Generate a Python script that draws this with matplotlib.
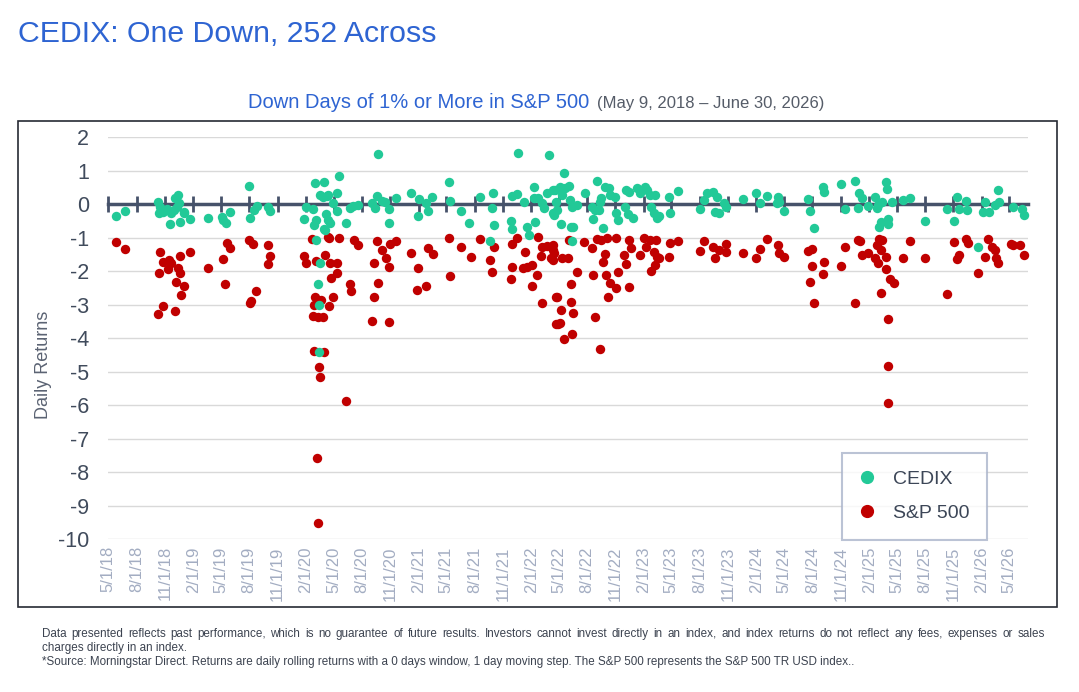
import matplotlib
matplotlib.use("Agg")
import matplotlib.pyplot as plt
import matplotlib.dates as mdates
from matplotlib.patches import Rectangle
from matplotlib.lines import Line2D
import pandas as pd

# CEDIX daily return on each S&P 500 down day
cedix_dates = [
    "2018-05-25", "2018-06-25", "2018-10-08", "2018-10-16", "2018-10-11", "2018-10-26", "2018-11-08",
    "2018-11-19", "2018-11-16", "2018-11-29", "2018-12-04", "2018-12-10", "2018-12-14", "2018-12-17",
    "2018-12-19", "2018-12-31", "2019-01-03", "2019-01-22", "2019-03-21", "2019-05-06", "2019-05-09",
    "2019-05-17", "2019-05-30", "2019-08-01", "2019-08-05", "2019-08-15", "2019-08-26", "2019-10-02",
    "2019-10-08", "2020-01-27", "2020-01-31", "2020-02-25", "2020-02-27", "2020-03-03", "2020-03-05",
    "2020-03-06", "2020-03-12", "2020-03-13", "2020-03-16", "2020-03-17", "2020-03-18", "2020-03-27",
    "2020-03-31", "2020-04-01", "2020-04-03", "2020-04-07", "2020-04-09", "2020-04-13", "2020-04-14",
    "2020-04-20", "2020-04-28", "2020-05-11", "2020-05-12", "2020-05-18", "2020-06-10", "2020-06-23",
    "2020-07-02", "2020-07-20", "2020-09-02", "2020-09-11", "2020-09-17", "2020-09-21", "2020-10-05",
    "2020-10-16", "2020-10-26", "2020-10-29", "2020-11-18", "2021-01-06", "2021-01-28", "2021-02-02",
    "2021-02-24", "2021-03-04", "2021-03-17", "2021-05-10", "2021-05-12", "2021-06-17", "2021-07-15",
    "2021-08-19", "2021-09-20", "2021-09-28", "2021-09-30", "2021-10-04", "2021-11-26", "2021-11-30",
    "2021-12-01", "2021-12-17", "2021-12-21", "2022-01-07", "2022-01-18", "2022-01-24", "2022-02-10",
    "2022-02-11", "2022-02-14", "2022-02-24", "2022-03-07", "2022-03-14", "2022-03-25", "2022-04-01",
    "2022-04-11", "2022-04-13", "2022-04-14", "2022-04-19", "2022-04-22", "2022-04-25", "2022-05-05",
    "2022-05-09", "2022-05-11", "2022-05-18", "2022-05-20", "2022-06-03", "2022-06-07", "2022-06-10",
    "2022-06-13", "2022-06-14", "2022-06-16", "2022-06-28", "2022-07-26", "2022-08-17", "2022-08-19",
    "2022-08-26", "2022-09-02", "2022-09-07", "2022-09-13", "2022-09-16", "2022-09-21", "2022-09-29",
    "2022-10-10", "2022-10-14", "2022-11-01", "2022-11-04", "2022-11-09", "2022-12-02", "2022-12-06",
    "2022-12-13", "2022-12-15", "2022-12-29", "2023-01-11", "2023-01-20", "2023-02-06", "2023-02-10",
    "2023-02-21", "2023-02-24", "2023-03-06", "2023-03-09", "2023-03-15", "2023-03-22", "2023-04-25",
    "2023-04-27", "2023-05-22", "2023-08-02", "2023-08-15", "2023-08-24", "2023-09-13", "2023-09-21",
    "2023-09-26", "2023-10-03", "2023-10-20", "2023-10-26", "2023-12-20", "2024-01-31", "2024-02-13",
    "2024-03-05", "2024-04-09", "2024-04-12", "2024-04-16", "2024-04-30", "2024-07-17", "2024-07-24",
    "2024-08-05", "2024-09-03", "2024-09-06", "2024-10-31", "2024-11-15", "2024-12-18", "2024-12-27",
    "2024-12-30", "2025-01-10", "2025-01-29", "2025-02-21", "2025-02-25", "2025-03-03", "2025-03-06",
    "2025-03-10", "2025-03-13", "2025-03-28", "2025-03-31", "2025-04-03", "2025-04-04", "2025-04-16",
    "2025-05-21", "2025-06-13", "2025-08-01", "2025-10-10", "2025-11-04", "2025-11-13", "2025-11-18",
    "2025-12-12", "2025-12-15", "2026-01-20", "2026-02-05", "2026-02-12", "2026-02-24", "2026-03-17",
    "2026-03-27", "2026-03-30", "2026-05-14", "2026-06-12", "2026-06-18",
]
cedix_ret = [
    -0.34, -0.20, 0.08, -0.07, -0.25, -0.22, -0.15,
    -0.25, -0.60, -0.17, 0.18, -0.07, 0.28, 0.03,
    -0.54, -0.22, -0.27, -0.45, -0.40, -0.37, -0.47,
    -0.57, -0.24, 0.56, -0.40, -0.17, -0.04, -0.07,
    -0.20, -0.44, -0.07, -0.15, -0.62, 0.63, -1.06,
    -0.47, -2.38, -3.02, -4.40, -1.74, 0.28, 0.23,
    -0.75, 0.68, -0.77, -0.29, 0.25, 0.28, -0.47,
    -0.57, 0.03, 0.33, -0.20, 0.83, -0.55, -0.12,
    -0.04, -0.02, 0.03, -0.12, 0.25, 1.49, 0.11,
    0.08, -0.14, -0.55, 0.20, 0.35, -0.34, 0.15,
    0.03, -0.20, 0.21, 0.68, 0.11, -0.19, -0.55,
    0.23, -1.09, -0.10, 0.35, -0.62, -0.49, 0.25,
    -0.75, 0.31, 1.54, 0.08, -0.67, -0.92, 0.53,
    0.18, -0.52, 0.18, 0.03, -0.12, 0.33, 1.47,
    -0.27, 0.43, -0.32, 0.43, 0.08, -0.17, 0.53,
    -0.59, 0.28, 0.93, 0.48, 0.55, 0.13, -0.67,
    -0.07, -1.09, -0.67, -0.02, 0.35, -0.07, -0.44,
    -0.17, 0.71, -0.17, 0.08, 0.18, -0.70, 0.53,
    0.48, 0.28, 0.23, -0.27, -0.47, -0.07, 0.43,
    -0.30, 0.38, -0.42, 0.48, 0.33, 0.53, 0.43,
    0.28, -0.07, -0.27, 0.28, -0.42, -0.35, 0.23,
    -0.25, 0.41, -0.14, 0.13, 0.33, 0.38, -0.22,
    0.23, -0.27, 0.03, -0.07, 0.16, 0.35, 0.05,
    0.25, 0.03, 0.23, 0.08, -0.20, 0.15, -0.19,
    -0.70, 0.53, 0.36, 0.60, -0.14, 0.71, -0.10,
    0.33, 0.18, -0.04, 0.23, -0.12, -0.02, -0.68,
    -0.52, 0.08, 0.68, 0.45, -0.44, -0.59, 0.08,
    0.13, 0.20, -0.49, -0.14, -0.49, 0.23, -0.14,
    0.11, -0.17, -1.26, -0.22, 0.06, -0.22, -0.02,
    0.43, 0.06, -0.07, -0.13, -0.33,
]

# S&P 500 daily return on its down days of 1% or more
spx_dates = [
    "2018-05-25", "2018-06-25", "2018-10-10", "2018-10-11", "2018-10-16", "2018-10-24", "2018-10-25",
    "2018-11-12", "2018-11-13", "2018-11-19", "2018-12-04", "2018-12-07", "2018-12-12", "2018-12-18",
    "2018-12-19", "2018-12-24", "2019-01-02", "2019-01-22", "2019-03-21", "2019-05-07", "2019-05-13",
    "2019-05-20", "2019-05-30", "2019-08-01", "2019-08-05", "2019-08-06", "2019-08-12", "2019-08-23",
    "2019-10-01", "2019-10-02", "2019-10-08", "2020-01-27", "2020-01-31", "2020-02-21", "2020-02-24",
    "2020-02-26", "2020-02-27", "2020-03-03", "2020-03-04", "2020-03-09", "2020-03-11", "2020-03-12",
    "2020-03-13", "2020-03-18", "2020-03-20", "2020-03-27", "2020-04-01", "2020-04-03", "2020-04-13",
    "2020-04-15", "2020-04-17", "2020-04-20", "2020-04-21", "2020-04-30", "2020-05-11", "2020-05-13",
    "2020-05-19", "2020-06-11", "2020-06-24", "2020-06-26", "2020-07-07", "2020-07-20", "2020-09-03",
    "2020-09-08", "2020-09-10", "2020-09-18", "2020-09-21", "2020-10-05", "2020-10-19", "2020-10-26",
    "2020-10-28", "2020-10-30", "2020-11-18", "2021-01-06", "2021-01-27", "2021-01-29", "2021-02-25",
    "2021-03-04", "2021-03-18", "2021-05-10", "2021-05-12", "2021-06-17", "2021-07-19", "2021-08-19",
    "2021-09-20", "2021-09-28", "2021-10-04", "2021-11-26", "2021-11-30", "2021-12-01", "2021-12-17",
    "2022-01-05", "2022-01-10", "2022-01-18", "2022-02-03", "2022-02-04", "2022-02-18", "2022-02-22",
    "2022-03-03", "2022-03-07", "2022-03-08", "2022-03-25", "2022-04-05", "2022-04-11", "2022-04-12",
    "2022-04-13", "2022-04-14", "2022-04-21", "2022-04-22", "2022-04-26", "2022-04-29", "2022-05-05",
    "2022-05-09", "2022-05-11", "2022-05-18", "2022-06-01", "2022-06-03", "2022-06-09", "2022-06-10",
    "2022-06-13", "2022-06-16", "2022-06-28", "2022-07-22", "2022-08-16", "2022-08-19", "2022-08-26",
    "2022-09-02", "2022-09-13", "2022-09-16", "2022-09-21", "2022-09-29", "2022-09-30", "2022-10-04",
    "2022-10-07", "2022-10-14", "2022-11-02", "2022-11-04", "2022-11-09", "2022-11-30", "2022-12-06",
    "2022-12-14", "2022-12-15", "2022-12-22", "2023-01-18", "2023-02-02", "2023-02-09", "2023-02-21",
    "2023-02-24", "2023-03-07", "2023-03-09", "2023-03-13", "2023-03-15", "2023-03-22", "2023-04-25",
    "2023-04-28", "2023-05-22", "2023-08-02", "2023-08-15", "2023-09-13", "2023-09-21", "2023-10-03",
    "2023-10-25", "2023-10-27", "2023-12-20", "2024-01-31", "2024-02-13", "2024-03-05", "2024-04-10",
    "2024-04-15", "2024-04-30", "2024-07-17", "2024-07-24", "2024-07-30", "2024-08-01", "2024-08-05",
    "2024-09-03", "2024-09-06", "2024-10-31", "2024-11-15", "2024-12-18", "2024-12-27", "2025-01-02",
    "2025-01-10", "2025-01-27", "2025-02-21", "2025-02-25", "2025-03-03", "2025-03-06", "2025-03-10",
    "2025-03-12", "2025-03-13", "2025-03-26", "2025-03-28", "2025-04-02", "2025-04-03", "2025-04-04",
    "2025-04-10", "2025-04-21", "2025-05-21", "2025-06-13", "2025-08-01", "2025-10-10", "2025-11-04",
    "2025-11-13", "2025-11-18", "2025-12-12", "2025-12-17", "2026-01-20", "2026-02-12", "2026-02-20",
    "2026-03-06", "2026-03-17", "2026-03-20", "2026-03-27", "2026-05-07", "2026-05-14", "2026-06-05",
    "2026-06-18",
]
spx_ret = [
    -1.14, -1.34, -3.27, -2.04, -1.41, -3.05, -1.71,
    -1.93, -1.66, -1.74, -3.20, -2.31, -1.89, -2.06,
    -1.54, -2.70, -2.43, -1.41, -1.89, -1.64, -2.39,
    -1.16, -1.29, -1.06, -2.96, -2.88, -1.18, -2.58,
    -1.78, -1.21, -1.53, -1.54, -1.74, -1.03, -3.32,
    -3.02, -4.37, -2.78, -1.68, -7.58, -3.35, -9.50,
    -4.85, -5.17, -2.86, -3.35, -4.40, -1.51, -0.99,
    -1.00, -3.05, -1.76, -2.19, -2.78, -1.74, -2.04,
    -1.01, -5.88, -2.38, -2.58, -1.08, -1.21, -3.47,
    -2.76, -1.74, -1.11, -2.34, -1.36, -1.61, -1.86,
    -3.50, -1.18, -1.11, -1.46, -2.56, -1.91, -2.43,
    -1.31, -1.48, -1.01, -2.13, -1.28, -1.58, -1.04,
    -1.66, -2.01, -1.28, -2.24, -1.86, -1.18, -1.01,
    -1.91, -1.41, -1.86, -2.43, -1.81, -2.11, -0.99,
    -1.54, -1.26, -2.94, -1.24, -1.61, -1.36, -1.66,
    -1.21, -1.46, -2.76, -3.58, -2.76, -3.58, -3.53,
    -3.17, -1.61, -4.02, -1.61, -1.06, -2.38, -2.91,
    -3.87, -3.23, -2.01, -1.13, -1.29, -2.11, -3.35,
    -1.04, -4.32, -1.06, -1.71, -1.49, -2.11, -1.00,
    -2.78, -2.34, -2.49, -1.02, -2.03, -1.51, -1.78,
    -1.08, -2.46, -1.31, -1.51, -1.01, -1.26, -1.06,
    -1.98, -1.41, -1.81, -1.08, -1.56, -1.61, -1.56,
    -1.16, -1.11, -1.38, -1.11, -1.26, -1.61, -1.36,
    -1.18, -1.41, -1.46, -1.59, -1.34, -1.03, -1.21,
    -1.46, -1.56, -1.38, -2.31, -1.34, -1.83, -2.96,
    -2.09, -1.71, -1.83, -1.28, -2.94, -1.06, -1.11,
    -1.51, -1.46, -1.61, -1.21, -1.74, -1.04, -2.66,
    -1.36, -1.06, -1.94, -1.56, -3.42, -4.82, -5.94,
    -2.24, -2.34, -1.59, -1.11, -1.59, -2.69, -1.14,
    -1.64, -1.51, -1.04, -1.16, -2.04, -1.56, -1.03,
    -1.26, -1.36, -1.61, -1.74, -1.19, -1.22, -1.22,
    -1.52,
]

x_start = "2018-05-01"
x_end = "2026-07-01"
tick_start = "2018-05-01"
tick_end = "2026-05-01"

GREEN = "#22c997"
RED = "#c00000"
BLUE = "#2e64d2"
AXIS = "#46526a"

plt.rcParams["font.family"] = ["Liberation Sans", "DejaVu Sans"]
plt.rcParams["axes.unicode_minus"] = False

W, H = 1079, 692
fig = plt.figure(figsize=(W / 100, H / 100), dpi=100)


def fx(px):
    return px / W


def fy(py):
    return 1 - py / H


ax = fig.add_axes([fx(108.3), fy(539.3), (1028 - 108.3) / W, (539.3 - 137.3) / H])

xc = mdates.date2num(pd.to_datetime(cedix_dates))
xs = mdates.date2num(pd.to_datetime(spx_dates))

ax.scatter(xs, spx_ret, s=46, color=RED, linewidths=0, zorder=3, clip_on=False)
ax.scatter(xc, cedix_ret, s=46, color=GREEN, linewidths=0, zorder=4, clip_on=False)

ax.set_xlim(mdates.date2num(pd.Timestamp(x_start)), mdates.date2num(pd.Timestamp(x_end)))
ax.set_ylim(-10, 2)
ax.set_yticks(range(-10, 3))
ax.yaxis.grid(True, color="#d9d9d9", lw=1)
ax.set_axisbelow(True)
for s in ["top", "right", "left"]:
    ax.spines[s].set_visible(False)

# zero line with quarterly tick marks
ax.spines["bottom"].set_position(("data", 0))
ax.spines["bottom"].set_color(AXIS)
ax.spines["bottom"].set_linewidth(2.5)
tick_days = pd.date_range(tick_start, tick_end, freq="3MS")
tick_pos = mdates.date2num(tick_days)
tick_labels = [f"{d.month}/{d.day}/{d.year % 100:02d}" for d in tick_days]
ax.set_xticks(tick_pos)
ax.tick_params(axis="x", direction="inout", length=11, width=2, color=AXIS, labelbottom=False)
ax.tick_params(axis="y", length=0, pad=14, labelsize=15.5, labelcolor="#404b5c")

# date labels along the bottom
sec = ax.secondary_xaxis("bottom")
sec.set_xticks(tick_pos, labels=tick_labels)
sec.tick_params(length=0, pad=5, labelsize=12, labelcolor="#a3adc2", labelrotation=90)
sec.spines["bottom"].set_visible(False)

fig.text(fx(44), fy(365), "Daily Returns", rotation=90, ha="center", va="center",
         fontsize=13, color="#5b6373")

handles = [
    Line2D([], [], marker="o", ls="", color=GREEN, markersize=8.5, label="CEDIX"),
    Line2D([], [], marker="o", ls="", color=RED, markersize=8.5, label="S&P 500"),
]
leg = fig.legend(handles=handles, loc="upper left", bbox_to_anchor=(fx(842), fy(453)),
                 frameon=True, fancybox=False, edgecolor="#aab4cb", fontsize=14,
                 labelcolor="#3c4657", handlelength=0.8, handletextpad=0.9,
                 borderpad=0.9, labelspacing=0.85, borderaxespad=0)
leg.get_frame().set_linewidth(1.5)

# outer frame
fig.add_artist(Rectangle((fx(18), fy(607)), (1057 - 18) / W, (607 - 121) / H,
                         transform=fig.transFigure, fill=False, ec="#262a33", lw=1.2))

fig.text(fx(18), fy(41.7), "CEDIX: One Down, 252 Across", fontsize=21.8, color=BLUE, va="baseline")
fig.text(fx(248), fy(107.7), "Down Days of 1% or More in S&P 500", fontsize=14.5,
         color=BLUE, va="baseline")
fig.text(fx(597), fy(107.7), "(May 9, 2018 \u2013 June 30, 2026)", fontsize=12,
         color="#555c68", va="baseline")

# footnote, first line justified
note1 = ("Data presented reflects past performance, which is no guarantee of future results. "
         "Investors cannot invest directly in an index, and index returns do not reflect any "
         "fees, expenses or sales")
note2 = "charges directly in an index."
note3 = ("*Source: Morningstar Direct. Returns are daily rolling returns with a 0 days window, "
         "1 day moving step. The S&P 500 represents the S&P 500 TR USD index..")
NOTE_FS = 8.4
NOTE_C = "#3c4350"

fig.canvas.draw()
renderer = fig.canvas.get_renderer()
words = note1.split()
widths = []
for w in words:
    t = fig.text(0, 0, w, fontsize=NOTE_FS)
    widths.append(t.get_window_extent(renderer).width)
    t.remove()
gap = (1045 - 42 - sum(widths)) / (len(words) - 1)
x = 42
for w, wd in zip(words, widths):
    fig.text(fx(x), fy(637), w, fontsize=NOTE_FS, color=NOTE_C, va="baseline")
    x += wd + gap
fig.text(fx(42), fy(651), note2, fontsize=NOTE_FS, color=NOTE_C, va="baseline")
fig.text(fx(42), fy(665), note3, fontsize=NOTE_FS, color=NOTE_C, va="baseline")

fig.savefig("out.png", dpi=100)
